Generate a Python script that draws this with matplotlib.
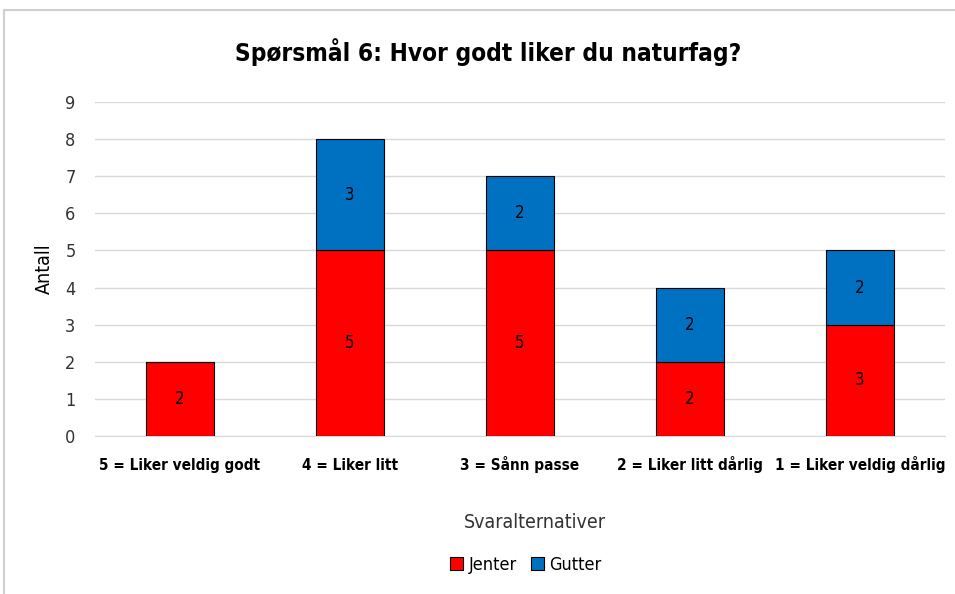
import matplotlib

matplotlib.use("Agg")
import matplotlib.pyplot as plt
from matplotlib.patches import Rectangle
import numpy as np

categories = [
    "5 = Liker veldig godt",
    "4 = Liker litt",
    "3 = Sånn passe",
    "2 = Liker litt dårlig",
    "1 = Liker veldig dårlig",
]
jenter = [2, 5, 5, 2, 3]
gutter = [0, 3, 2, 2, 2]
yticks = list(range(0, 10))

_RED = "#FF0000"
_BLUE = "#0070C0"

plt.rcParams["font.family"] = ["DejaVu Sans"]
plt.rcParams["font.stretch"] = "condensed"

fig = plt.figure(figsize=(9.55, 5.94), dpi=100)
ax = fig.add_axes([95 / 955, 1 - 436 / 594, 850 / 955, 334 / 594])

# chart frame, like the spreadsheet chart box
fig.patches.append(Rectangle((4 / 955, -0.05), 1.2, 1 - 10 / 594 + 0.05,
                             transform=fig.transFigure, fill=False,
                             edgecolor="#D0D0D0", lw=1.5))

x = np.arange(len(categories))
ax.bar(x, jenter, width=0.4, color=_RED, edgecolor="black", lw=0.8,
       label="Jenter", zorder=3)
ax.bar(x, gutter, width=0.4, bottom=jenter, color=_BLUE, edgecolor="black",
       lw=0.8, label="Gutter", zorder=3)

for i, (j, g) in enumerate(zip(jenter, gutter)):
    if j:
        ax.text(i, j / 2, str(j), ha="center", va="center", fontsize=12, zorder=4)
    if g:
        ax.text(i, j + g / 2, str(g), ha="center", va="center", fontsize=12, zorder=4)

ax.set_xlim(-0.5, len(categories) - 0.5)
ax.set_ylim(0, 9)
ax.set_yticks(yticks)
ax.tick_params(axis="y", length=0, labelsize=13, pad=14, labelcolor="#333333")
ax.set_xticks(x)
ax.set_xticklabels([])
ax.tick_params(axis="x", length=0)
# category labels on a shared baseline (the ring in "å" shifts top-aligned ticks)
for i, lab in enumerate(categories):
    ax.annotate(lab, xy=(i, 0), xycoords="data", xytext=(0, -34),
                textcoords="offset pixels", ha="center", va="baseline",
                fontsize=11, fontweight="bold")
ax.grid(True, axis="y", color="#D9D9D9", lw=1, zorder=0)
for side in ["top", "right", "left"]:
    ax.spines[side].set_visible(False)
ax.spines["bottom"].set_color("#D9D9D9")

ax.set_ylabel("Antall", fontsize=14, labelpad=8)
fig.text(535 / 955, 1 - 523 / 594, "Svaralternativer", ha="center", va="center",
         fontsize=14, color="#333333")

fig.text(488 / 955, 1 - 52 / 594, "Spørsmål 6: Hvor godt liker du naturfag?",
         ha="center", va="center", fontsize=17.5, fontweight="bold")

fig.legend(loc="center", bbox_to_anchor=(526 / 955, 1 - 565 / 594), ncol=2,
           frameon=False, fontsize=13, handlelength=0.7, handleheight=0.7,
           handletextpad=0.3, columnspacing=0.8)

fig.savefig("out.png", dpi=100)
